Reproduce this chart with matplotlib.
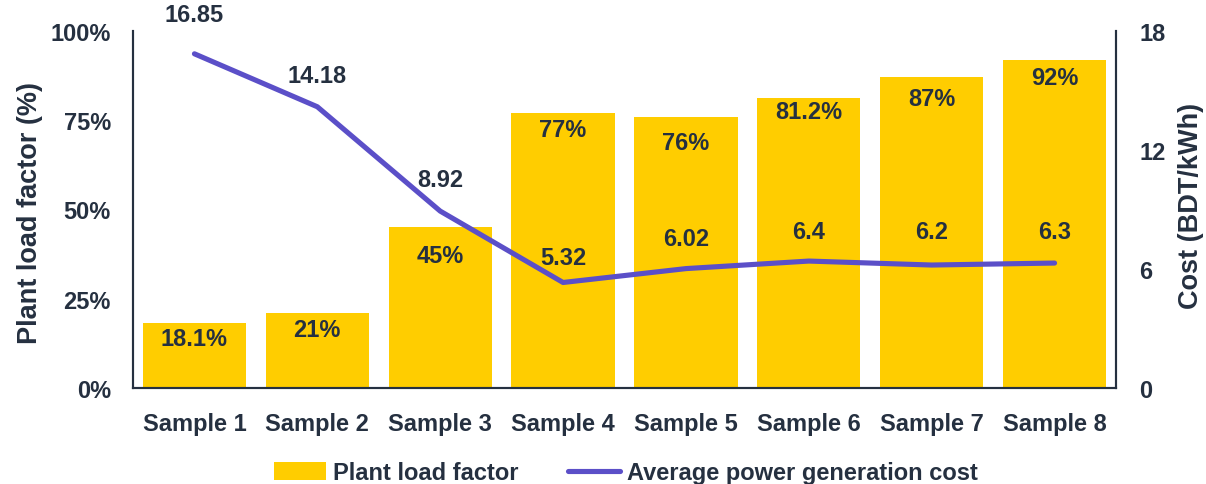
import matplotlib
matplotlib.use("Agg")
import matplotlib.pyplot as plt
from matplotlib.ticker import FuncFormatter

categories = ["Sample 1", "Sample 2", "Sample 3", "Sample 4",
              "Sample 5", "Sample 6", "Sample 7", "Sample 8"]
load_factor = [18.1, 21, 45, 77, 76, 81.2, 87, 92]
load_labels = ["18.1%", "21%", "45%", "77%", "76%", "81.2%", "87%", "92%"]
avg_cost = [16.85, 14.18, 8.92, 5.32, 6.02, 6.4, 6.2, 6.3]
cost_labels = ["16.85", "14.18", "8.92", "5.32", "6.02", "6.4", "6.2", "6.3"]

TEXT = "#253040"
BAR = "#FFCD00"
LINE = "#5B4FC8"
FS = 17

plt.rcParams["font.family"] = ["Liberation Sans", "DejaVu Sans"]
plt.rcParams["font.weight"] = "bold"

fig = plt.figure(figsize=(12.06, 4.85), dpi=100)
ax = fig.add_axes([133 / 1206, 1 - 389 / 485, (1116 - 133) / 1206, (389 - 32) / 485])
ax2 = ax.twinx()

x = list(range(len(categories)))
bars = ax.bar(x, load_factor, width=0.84, color=BAR, zorder=2,
              label="Plant load factor")
ax.set_xlim(-0.5, len(categories) - 0.5)
ax.set_ylim(0, 100)
ax.set_yticks([0, 25, 50, 75, 100])
ax.yaxis.set_major_formatter(FuncFormatter(lambda v, _: f"{v:.0f}%"))
ax.set_xticks(x)
ax.set_xticklabels(categories)

# labels sit inside each bar just below its top (offsets in pixels)
bar_offsets = [-15, -16, -28, -16, -26, -13, -21, -18]
for xi, v, lab, off in zip(x, load_factor, load_labels, bar_offsets):
    ax.annotate(lab, (xi, v), xytext=(0, off), textcoords="offset pixels",
                ha="center", va="center", fontsize=FS, fontweight="bold",
                color=TEXT)

line, = ax2.plot(x, avg_cost, color=LINE, lw=3.7, solid_capstyle="round",
                 zorder=3, label="Average power generation cost")
ax2.set_ylim(0, 18)
ax2.set_yticks([0, 6, 12, 18])

line_offsets = [39, 31, 32, 25, 30, 30, 34, 32]
for xi, v, lab, off in zip(x, avg_cost, cost_labels, line_offsets):
    ax2.annotate(lab, (xi, v), xytext=(0, off), textcoords="offset pixels",
                 ha="center", va="center", fontsize=FS, fontweight="bold",
                 color=TEXT)

for a in (ax, ax2):
    a.tick_params(length=0, labelsize=FS, labelcolor=TEXT)
    a.spines["top"].set_visible(False)
    for s in ("left", "right", "bottom"):
        a.spines[s].set_color(TEXT)
        a.spines[s].set_linewidth(1.5)
    a.set_facecolor("none")
ax.tick_params(axis="y", pad=16)
ax.tick_params(axis="x", pad=17)
ax2.tick_params(axis="y", pad=17)

ax.set_ylabel("Plant load factor (%)", fontsize=19.5, fontweight="bold",
              color=TEXT)
ax.yaxis.set_label_coords((43 - 133) / 983, (389 - 213) / 357)
ax2.set_ylabel("Cost (BDT/kWh)", fontsize=19.5, fontweight="bold",
               color=TEXT)
ax2.yaxis.set_label_coords((1178 - 133) / 983, (389 - 206) / 357)

fig.legend([bars, line], ["Plant load factor", "Average power generation cost"],
           loc="center", bbox_to_anchor=(626 / 1206, 1 - 474 / 485), ncol=2,
           frameon=False, fontsize=FS, handlelength=2.2, handleheight=0.8,
           handletextpad=0.3, columnspacing=2.1, labelcolor=TEXT)

fig.savefig("out.png", dpi=100)
